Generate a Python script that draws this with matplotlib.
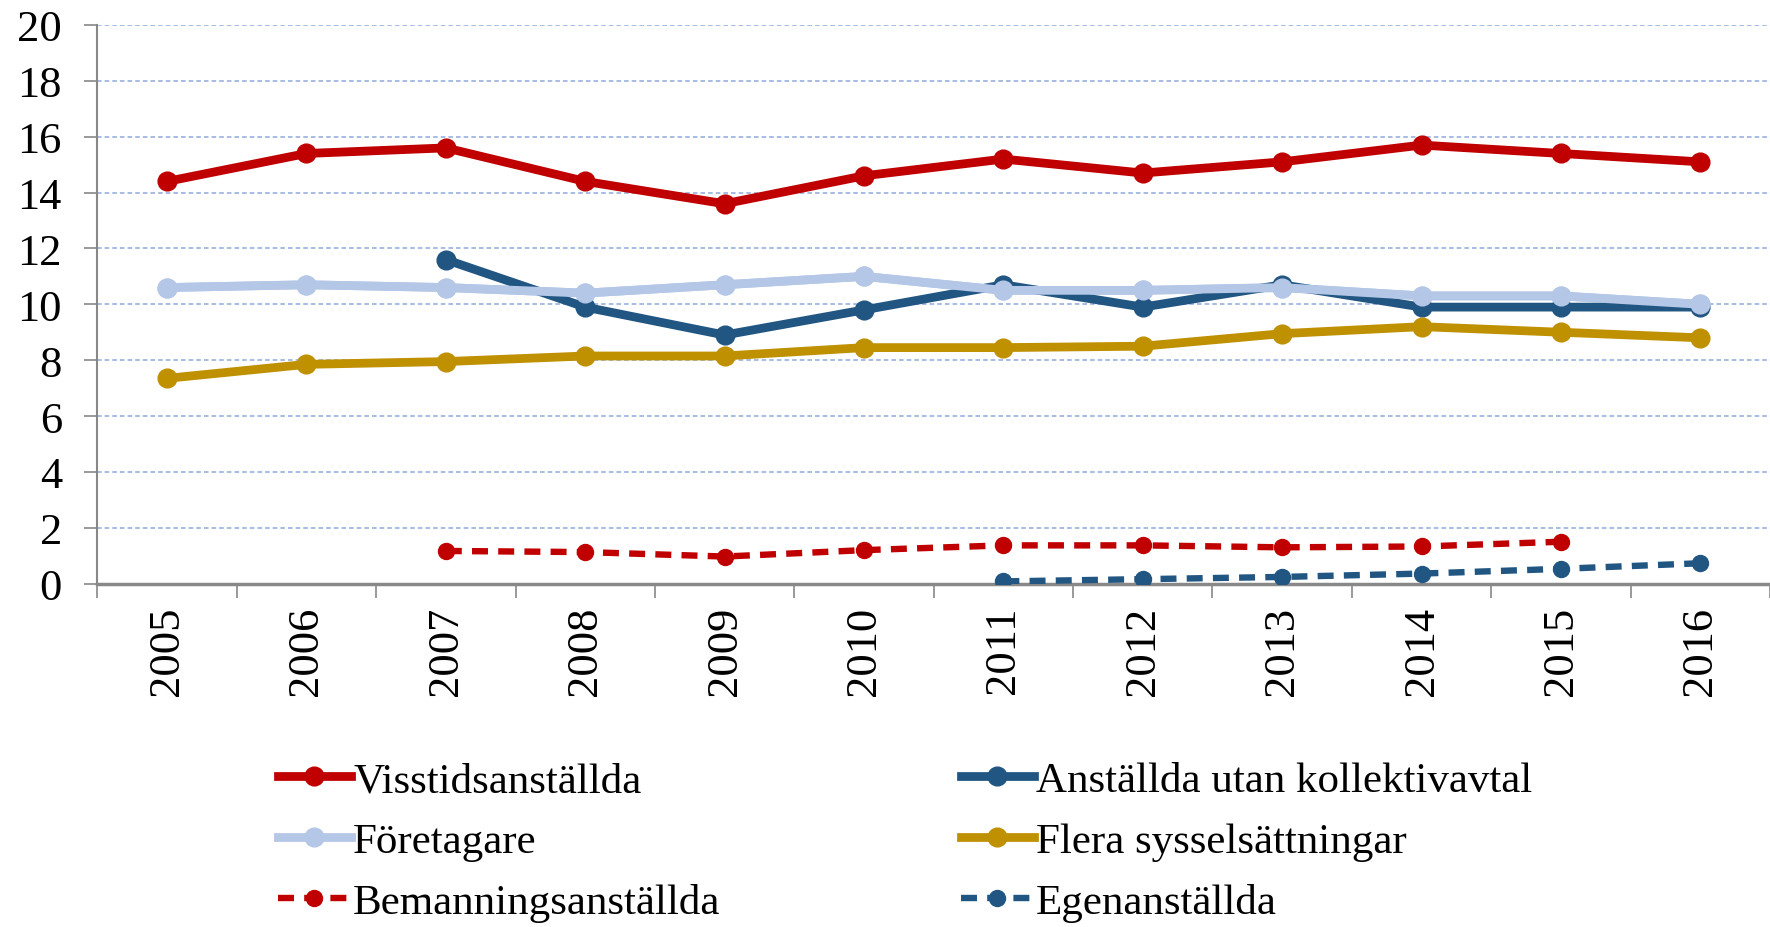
import numpy as np
import matplotlib
matplotlib.use("Agg")
from matplotlib import pyplot as plt
from matplotlib.ticker import MultipleLocator

plt.rcParams['font.family'] = ['Liberation Serif', 'DejaVu Serif']

years = [str(y) for y in range(2005, 2017)]

visstid = [14.4, 15.4, 15.6, 14.4, 13.6, 14.6, 15.2, 14.7, 15.1, 15.7, 15.4, 15.1]
foretagare = [10.6, 10.7, 10.6, 10.4, 10.7, 11.0, 10.5, 10.5, 10.6, 10.3, 10.3, 10.0]
utan_avtal = [np.nan, np.nan, 11.6, 9.9, 8.9, 9.8, 10.7, 9.9, 10.7, 9.9, 9.9, 9.9]
flera = [7.35, 7.85, 7.95, 8.15, 8.15, 8.45, 8.45, 8.5, 8.95, 9.2, 9.0, 8.8]
bemanning = [np.nan, np.nan, 1.17, 1.13, 0.97, 1.2, 1.37, 1.37, 1.3, 1.33, 1.5, np.nan]
egen = [np.nan] * 6 + [0.08, 0.16, 0.24, 0.36, 0.53, 0.73]

red = '#C00000'
dark = '#215582'
light = '#B4C7E7'
gold = '#BF9000'

fig = plt.figure(figsize=(17.7, 9.28), dpi=100)
ax = fig.add_axes([0.055, 0.370, 0.945, 0.602])

x = np.arange(len(years))
solid = dict(lw=6.3, marker='o', ms=13.5)
dash = dict(lw=4.6, marker='o', ms=11.5, ls=(0, (2.5, 1.6)))

h_vis, = ax.plot(x, visstid, color=red, label='Visstidsanställda', **solid)
h_for, = ax.plot(x, foretagare, color=light, label='Företagare', **solid)
h_utan, = ax.plot(x, utan_avtal, color=dark, label='Anställda utan kollektivavtal', **solid)
ax.plot(x, foretagare, color=light, **solid)
h_fle, = ax.plot(x, flera, color=gold, label='Flera sysselsättningar', **solid)
h_bem, = ax.plot(x, bemanning, color=red, label='Bemanningsanställda', **dash)
h_egen, = ax.plot(x, egen, color=dark, label='Egenanställda', **dash)

ax.set_xlim(-0.5, len(years) - 0.5)
ax.set_ylim(0, 20)
ax.yaxis.set_major_locator(MultipleLocator(2))
ax.set_xticks(x)
ax.set_xticklabels(years, rotation=90)
ax.set_xticks(np.arange(-0.5, len(years), 1), minor=True)
ax.tick_params(axis='x', which='major', length=0, pad=16, labelsize=32)
ax.tick_params(axis='x', which='minor', length=10, width=1.2, color='#888888', direction='out')
ax.tick_params(axis='y', length=9.5, width=1.2, color='#888888', labelsize=32, pad=16)

ax.grid(axis='y', color='#8FAADC', ls=(0, (3, 2)), lw=1.1)
ax.set_axisbelow(True)
for s in ['top', 'right']:
    ax.spines[s].set_visible(False)
ax.spines['left'].set_color('#888888')
ax.spines['bottom'].set_color('#888888')
ax.spines['left'].set_linewidth(1.5)
ax.spines['bottom'].set_linewidth(2.5)
ax.spines['bottom'].set_zorder(1)

handles = [h_vis, h_for, h_bem, h_utan, h_fle, h_egen]
fig.legend(handles=handles, labels=[h.get_label() for h in handles],
           ncol=2, loc='lower left', bbox_to_anchor=(0.135, -0.036),
           frameon=False, fontsize=31, handlelength=1.7, handletextpad=0.05,
           columnspacing=5.58, labelspacing=0.5)

fig.savefig('out.png', dpi=100)
